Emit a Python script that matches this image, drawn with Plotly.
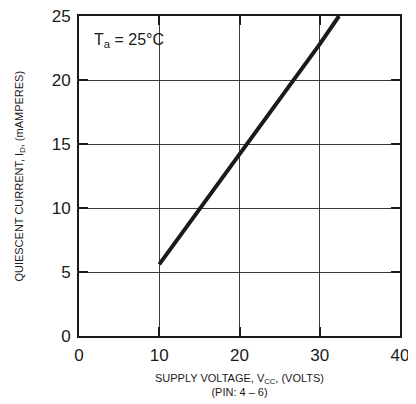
import plotly.graph_objects as go

supply_voltage = [10, 20, 30, 32.4]
quiescent_current = [5.6, 14.2, 22.8, 25.0]

x_ticks = [0, 10, 20, 30, 40]
y_ticks = [0, 5, 10, 15, 20, 25]

fig = go.Figure()
fig.add_trace(go.Scatter(x=supply_voltage, y=quiescent_current, mode="lines",
                         line=dict(color="#1a1a1a", width=4), showlegend=False))

font = "Liberation Sans, Arial, sans-serif"
axis_common = dict(showline=True, linecolor="#1a1a1a", linewidth=2, mirror="ticks",
                   ticks="inside", ticklen=9, tickwidth=2, tickcolor="#1a1a1a",
                   showgrid=True, gridcolor="#3a3a3a", gridwidth=1, zeroline=False,
                   automargin=False, ticklabeloverflow="allow",
                   tickfont=dict(family=font, size=17, color="#1a1a1a"))

fig.update_xaxes(range=[0, 40], tickvals=x_ticks, ticklabelstandoff=3, **axis_common)
fig.update_yaxes(range=[0, 25], tickvals=y_ticks, ticklabelstandoff=3, **axis_common)

fig.add_annotation(x=0.5, y=-0.105, xref="paper", yref="paper", xanchor="center", yanchor="top",
                   text="SUPPLY VOLTAGE, V<sub>CC</sub>, (VOLTS)<br>(PIN: 4 – 6)", showarrow=False,
                   font=dict(family=font, size=11, color="#1a1a1a"))
fig.add_annotation(x=-0.185, y=0.5, xref="paper", yref="paper", xanchor="center", yanchor="middle",
                   text="QUIESCENT CURRENT, I<sub>D</sub>, (mAMPERES)", showarrow=False, textangle=-90,
                   font=dict(family=font, size=11, color="#1a1a1a"))
fig.add_annotation(x=0.04, y=0.922, xref="paper", yref="paper", xanchor="left", yanchor="middle",
                   text="T<sub>a</sub> = 25°C", showarrow=False,
                   font=dict(family=font, size=16, color="#1a1a1a"))

fig.update_layout(width=408, height=396, margin=dict(l=71, r=16, t=8, b=68),
                  plot_bgcolor="white", paper_bgcolor="white")

fig.write_html("out.html")
